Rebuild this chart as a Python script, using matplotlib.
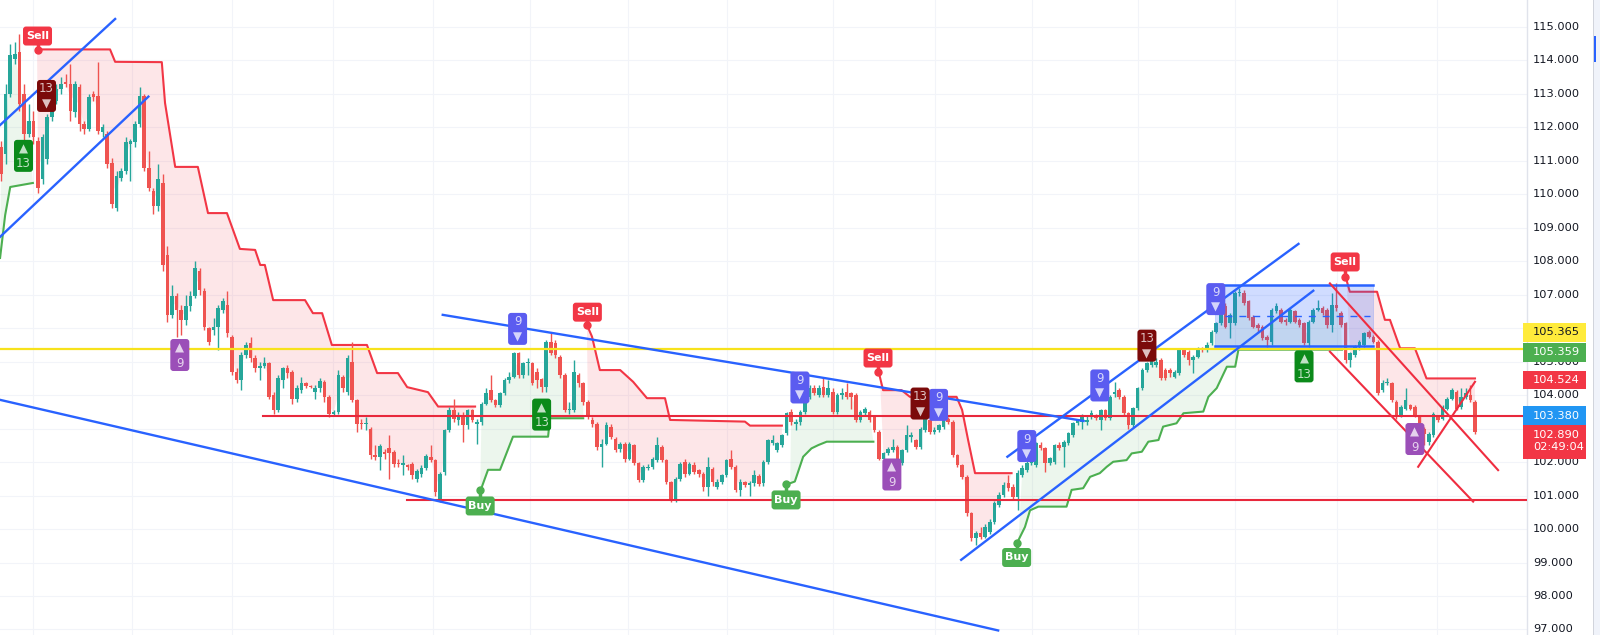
import numpy as np
import matplotlib
matplotlib.use("Agg")
import matplotlib.pyplot as plt
from matplotlib.patches import Polygon, Rectangle, FancyBboxPatch
from matplotlib.transforms import blended_transform_factory

# candles, oldest first
opens = [
    111.40, 111.20, 113.00, 114.05, 114.25, 113.00, 111.80, 112.20, 111.60, 110.45,
    111.05, 112.30, 112.80, 113.15, 113.35, 113.30, 112.45, 113.20, 112.10, 111.95,
    113.00, 112.95, 111.87, 111.80, 110.95, 109.60, 110.50, 110.70, 111.50, 111.55,
    112.10, 112.95, 110.80, 110.10, 109.65,
    110.35, 108.20, 106.40, 106.95, 106.55, 106.25, 106.65, 106.95, 107.70, 107.10,
    106.00, 105.95, 106.05, 106.55, 106.70, 105.75, 104.70, 104.45, 105.20, 105.55,
    105.10, 104.80, 104.88, 104.95, 104.00, 103.55, 104.45, 104.80, 104.70, 103.90,
    104.15, 104.35, 104.28, 104.10, 104.22, 104.40, 103.95, 103.45, 103.50, 104.55,
    104.10, 105.00, 103.85, 103.18, 103.13, 103.00, 102.20, 102.15, 102.30, 102.43,
    102.30, 101.98, 101.92, 101.90, 101.95, 101.50, 101.65, 101.83, 102.15, 102.05,
    100.85, 101.70, 102.95, 103.55, 103.25, 103.40, 103.10, 103.55, 103.15, 103.20,
    103.75, 104.15, 103.85, 103.70, 104.05, 104.45, 104.55, 105.25, 104.60, 104.95,
    104.95, 104.70, 104.47, 104.25, 105.60, 105.55, 105.15, 104.60, 103.55, 103.55,
    104.60, 104.35, 103.80, 103.25, 103.15, 102.45, 102.55, 103.05, 102.70, 102.40,
    102.55, 102.10, 102.50, 101.96, 101.46, 101.81, 101.86, 102.06, 102.46, 102.06,
    101.41, 100.88,
    101.50, 102.00, 101.65, 101.90, 101.75, 101.65, 101.25, 101.80, 101.25, 101.40,
    101.60, 102.10, 101.85, 101.17, 101.40, 101.32, 101.37, 101.58, 101.37, 102.00,
    102.56, 102.36, 102.50, 102.86, 103.50, 103.15, 103.20, 103.50, 103.95, 104.20,
    104.00, 104.25, 104.00, 104.10, 103.50, 104.00, 104.10, 104.05, 104.00, 103.25,
    103.48, 103.50, 103.35, 102.90, 102.10, 102.26, 102.36, 102.46, 101.96, 102.36,
    102.76, 102.66, 102.46, 102.95, 103.26, 102.90, 102.95, 103.05, 103.30,
    103.20, 102.20, 101.90, 101.57, 100.47, 99.72, 99.87, 99.77, 99.92, 100.22,
    100.72, 101.02, 101.37, 101.27, 100.97, 101.62, 101.77, 101.97, 101.91, 102.51,
    102.41, 101.96, 102.01, 102.51, 102.46, 102.56, 102.81, 103.16, 103.21, 103.21,
    103.36, 103.41, 103.26, 103.56, 103.31, 104.03, 104.16, 103.96, 103.46, 103.11,
    103.61, 104.20, 104.75, 104.90, 104.90, 105.05, 104.75, 104.75, 104.55, 104.65,
    105.35, 105.30, 105.05, 105.15, 105.40, 105.35,
    105.55, 105.90, 106.15, 106.65, 106.15, 106.15, 107.04, 107.04, 106.80, 106.35,
    106.10, 106.05, 105.75, 105.60, 106.50, 106.55, 106.25, 106.20, 106.50, 106.25,
    106.15, 105.55, 106.20, 106.55, 106.60, 106.55, 106.10, 106.70, 106.45, 106.15,
    105.05, 105.20, 105.45, 105.50, 105.90, 105.75, 105.60, 104.15, 104.35, 104.35,
    103.80, 103.40, 103.60, 103.70, 103.65, 103.35, 103.00, 102.60, 102.80, 103.35,
    103.30, 103.60, 103.90, 104.10, 103.65, 103.95, 104.00, 103.80,
]
closes = [
    110.60, 113.00, 114.15, 114.20, 112.70, 111.80, 112.20, 111.70, 110.20, 111.70,
    112.30, 112.80, 113.15, 113.30, 113.30, 112.50, 113.30, 112.10, 111.95, 112.90,
    112.90, 111.90, 112.00, 110.90, 109.70, 110.55, 110.70, 111.55, 111.58, 112.10,
    112.95, 110.80, 110.20, 109.65, 110.45,
    107.90, 106.40, 106.95, 106.55, 106.25, 106.65, 106.95, 107.80, 107.15, 106.05,
    105.60, 106.05, 106.60, 106.80, 105.85, 104.70, 104.45, 105.20, 105.50, 105.10,
    104.80, 104.88, 104.95, 103.95, 103.55, 104.50, 104.80, 104.65, 103.90, 104.20,
    104.35, 104.28, 104.24, 104.22, 104.43, 103.95, 103.45, 103.50, 104.60, 104.20,
    105.10, 103.85, 103.15, 103.13, 103.18, 102.20, 102.15, 102.48, 102.25, 102.28,
    101.95, 101.94, 101.96, 101.85, 101.60, 101.73, 101.83, 102.18, 102.05, 101.10,
    101.65, 102.95, 103.55, 103.30, 103.40, 103.10, 103.55, 103.25, 103.20, 103.75,
    104.05, 103.85, 103.70, 104.05, 104.45, 104.55, 105.25, 104.60, 104.95, 105.00,
    104.35, 104.45, 104.23, 105.60, 105.25, 105.20, 104.60, 103.55, 103.60, 104.70,
    104.35, 103.80, 103.40, 103.15, 102.45, 102.55, 103.10, 102.75, 102.35, 102.55,
    102.10, 102.55, 101.98, 101.46, 101.86, 101.86, 102.10, 102.50, 102.06, 101.41,
    100.88, 101.50,
    101.95, 101.65, 101.95, 101.70, 101.65, 101.25, 101.85, 101.40, 101.40, 101.60,
    102.05, 101.85, 101.17, 101.40, 101.33, 101.37, 101.60, 101.35, 102.00, 102.66,
    102.66, 102.56, 102.80, 103.46, 103.20, 103.20, 103.50, 103.95, 104.20, 104.05,
    104.20, 104.00, 104.20, 103.50, 104.00, 104.05, 103.95, 103.95, 103.25, 103.50,
    103.58, 103.25, 102.96, 102.10, 102.26, 102.40, 102.46, 102.10, 102.36, 102.80,
    102.80, 102.46, 103.00, 103.30, 102.90, 102.96, 103.10, 103.30, 103.20,
    102.20, 101.90, 101.57, 100.47, 99.72, 99.87, 99.77, 100.07, 100.20, 100.77,
    101.02, 101.32, 101.22, 100.97, 101.67, 101.82, 101.97, 102.22, 102.56, 102.41,
    101.96, 102.11, 102.51, 102.41, 102.61, 102.86, 103.16, 103.26, 103.41, 103.26,
    103.46, 103.31, 103.56, 103.31, 103.96, 104.08, 103.96, 103.46, 103.11, 103.61,
    104.20, 104.75, 104.95, 105.05, 105.00, 104.50, 104.50, 104.65, 104.70, 105.35,
    105.20, 105.05, 105.15, 105.40, 105.35, 105.50,
    105.90, 106.15, 106.65, 106.05, 106.40, 107.04, 107.09, 106.74, 106.30, 106.05,
    106.00, 105.70, 105.65, 106.55, 106.65, 106.20, 106.20, 106.55, 106.20, 106.10,
    105.55, 106.20, 106.55, 106.60, 106.45, 106.10, 106.70, 106.60, 106.10, 105.05,
    105.25, 105.45, 105.60, 105.85, 105.75, 105.60, 104.05, 104.35, 104.40, 103.85,
    103.40, 103.65, 103.85, 103.60, 103.40, 103.05, 102.85, 102.85, 103.45, 103.25,
    103.65, 103.90, 104.15, 103.60, 103.95, 104.05, 103.85, 102.89,
]
highs = [
    111.60, 113.30, 114.50, 114.55, 114.80, 113.30, 112.70, 112.50, 111.70, 111.80,
    112.40, 113.00, 113.30, 113.50, 113.60, 113.90, 113.40, 113.30, 112.20, 113.00,
    113.10, 113.95, 112.10, 111.90, 111.10, 110.70, 110.80, 111.70, 111.65, 112.20,
    113.20, 113.00, 111.30, 110.20, 110.90,
    110.60, 108.45, 107.30, 107.05, 106.70, 107.00, 107.10, 108.00, 107.80, 107.20,
    106.05, 106.30, 106.70, 106.90, 107.10, 105.80, 104.80, 105.30, 105.60, 105.75,
    105.20, 105.00, 105.15, 105.00, 104.10, 104.60, 104.85, 104.90, 104.75, 104.30,
    104.55, 104.40, 104.30, 104.30, 104.50, 104.45, 104.00, 103.55, 104.75, 104.60,
    105.20, 105.60, 103.90, 103.30, 103.35, 103.05, 102.50, 102.55, 102.40, 102.80,
    102.35, 102.10, 102.20, 101.95, 102.00, 101.80, 101.90, 102.25, 102.50, 102.10,
    101.70, 103.00, 103.65, 103.90, 103.50, 103.50, 103.60, 103.60, 103.30, 103.80,
    104.20, 104.60, 103.90, 104.10, 104.50, 104.70, 105.30, 105.30, 105.00, 105.10,
    105.00, 104.80, 104.50, 105.65, 105.85, 105.65, 105.20, 104.65, 103.80, 105.05,
    104.65, 104.40, 103.85, 103.35, 103.20, 102.70, 103.20, 103.15, 102.75, 102.60,
    102.60, 102.60, 102.55, 102.00, 101.90, 101.95, 102.15, 102.76, 102.50, 102.10,
    101.45, 101.55,
    102.00, 102.10, 102.00, 102.00, 101.80, 101.70, 102.15, 101.85, 101.50, 101.65,
    102.10, 102.35, 101.90, 101.50, 101.45, 101.45, 101.75, 101.65, 102.05, 102.70,
    102.80, 102.60, 102.85, 103.50, 103.60, 103.30, 103.55, 104.00, 104.30, 104.30,
    104.30, 104.50, 104.45, 104.20, 104.05, 104.20, 104.35, 104.10, 104.05, 103.55,
    103.65, 103.55, 103.40, 102.95, 102.30, 102.45, 102.70, 102.50, 102.40, 103.10,
    102.90, 102.70, 103.05, 103.50, 103.30, 103.05, 103.15, 103.35, 103.35,
    103.25, 102.25, 101.95, 101.60, 100.50, 99.95, 100.05, 100.15, 100.30, 100.85,
    101.10, 101.40, 101.60, 101.35, 101.75, 101.90, 102.05, 102.30, 102.60, 102.60,
    102.45, 102.15, 102.55, 102.60, 102.65, 102.90, 103.20, 103.30, 103.45, 103.40,
    103.55, 103.45, 103.60, 103.60, 104.00, 104.40, 104.20, 104.00, 103.50, 103.65,
    104.25, 104.80, 105.00, 105.15, 105.10, 105.10, 104.80, 104.80, 104.75, 105.40,
    105.40, 105.35, 105.20, 105.45, 105.45, 105.60,
    105.95, 106.20, 106.70, 106.75, 106.45, 107.10, 107.20, 107.15, 106.85, 106.40,
    106.15, 106.10, 105.80, 106.60, 106.75, 106.60, 106.30, 106.60, 106.55, 106.30,
    106.20, 106.25, 106.60, 106.85, 106.65, 106.60, 107.05, 107.35, 106.50, 106.20,
    105.30, 105.50, 105.65, 105.90, 105.95, 105.80, 105.65, 104.45, 104.50, 104.40,
    103.85, 103.70, 104.20, 103.75, 103.70, 103.40, 103.05, 102.90, 103.50, 103.40,
    103.70, 103.95, 104.20, 104.15, 104.20, 104.20, 104.30, 103.85,
]
lows = [
    110.40, 110.90, 112.90, 113.90, 112.50, 111.60, 111.70, 111.50, 110.05, 110.30,
    110.90, 112.20, 112.70, 113.00, 113.20, 112.20, 112.30, 111.90, 111.80, 111.90,
    112.80, 111.80, 111.70, 110.80, 109.60, 109.50, 110.40, 110.60, 110.40, 111.40,
    112.00, 110.70, 110.10, 109.40, 109.50,
    107.70, 106.20, 106.30, 105.75, 105.80, 106.10, 106.50, 106.90, 107.00, 105.95,
    105.50, 105.80, 105.35, 106.45, 105.75, 104.60, 104.35, 104.15, 105.10, 105.00,
    104.70, 104.45, 104.80, 103.90, 103.45, 103.50, 104.20, 104.50, 103.75, 103.80,
    104.05, 104.20, 104.20, 103.90, 104.10, 103.80, 103.35, 103.40, 103.45, 104.10,
    104.00, 103.80, 102.90, 103.00, 102.95, 102.10, 102.05, 101.75, 102.10, 101.50,
    101.85, 101.85, 101.60, 101.75, 101.50, 101.40, 101.55, 101.75, 102.00, 101.00,
    100.80, 101.60, 102.90, 103.20, 103.10, 102.60, 103.00, 103.20, 102.55, 103.10,
    103.70, 103.80, 103.65, 103.65, 104.00, 104.35, 104.50, 104.50, 104.50, 104.60,
    104.30, 104.20, 104.10, 104.10, 105.20, 105.10, 104.50, 103.50, 103.45, 103.50,
    104.25, 103.70, 103.30, 103.05, 102.35, 101.85, 102.50, 102.70, 102.30, 102.30,
    102.00, 102.05, 101.90, 101.40, 101.40, 101.75, 101.80, 102.00, 102.00, 101.35,
    100.80, 100.80,
    101.45, 101.55, 101.60, 101.65, 101.55, 101.15, 101.00, 101.30, 101.20, 101.35,
    101.55, 101.80, 101.10, 101.00, 101.25, 101.00, 101.30, 101.30, 101.30, 101.95,
    102.50, 102.30, 102.45, 102.80, 103.10, 102.95, 103.10, 103.45, 103.90, 104.00,
    103.95, 103.95, 103.95, 103.45, 103.45, 103.90, 103.90, 103.60, 103.20, 103.20,
    103.40, 103.20, 102.90, 102.05, 102.05, 102.20, 102.30, 102.05, 101.90, 102.30,
    102.60, 102.40, 102.40, 102.90, 102.85, 102.85, 102.90, 103.00, 103.15,
    102.15, 101.85, 101.50, 100.40, 99.65, 99.52, 99.70, 99.72, 99.85, 100.15,
    100.65, 100.95, 101.15, 100.90, 100.57, 101.55, 101.70, 101.90, 101.85, 102.35,
    101.70, 101.90, 101.95, 102.35, 101.85, 102.50, 102.75, 103.10, 103.00, 103.10,
    103.30, 103.25, 102.96, 103.25, 103.25, 103.95, 103.90, 103.40, 103.00, 103.05,
    103.55, 104.15, 104.70, 104.85, 104.85, 104.45, 104.45, 104.55, 104.50, 104.60,
    105.15, 104.90, 104.65, 105.10, 105.30, 105.30,
    105.50, 105.85, 106.10, 106.00, 105.70, 106.10, 106.95, 106.70, 106.25, 106.00,
    105.90, 105.65, 105.45, 105.50, 106.45, 106.15, 106.10, 106.15, 106.15, 106.05,
    105.50, 105.45, 106.15, 106.50, 106.40, 106.00, 105.90, 106.50, 106.05, 104.95,
    104.85, 105.15, 105.35, 105.45, 105.70, 105.55, 104.00, 104.10, 104.30, 103.80,
    103.30, 103.35, 103.55, 103.55, 103.35, 103.00, 102.50, 102.50, 102.75, 103.20,
    103.25, 103.55, 103.85, 103.55, 103.60, 103.90, 103.80, 102.85,
]

# supertrend line as (bar, level) knots
st_segments = [
    ("up", [(-0.2, 108.10), (0.9, 109.38), (2.0, 110.22), (6.9, 110.34)]),
    ("down", [(7.8, 114.33), (23.6, 114.33), (24.7, 113.96), (34.8, 113.95), (35.5, 112.73),
              (37.7, 110.82), (42.6, 110.82), (44.8, 109.44), (48.9, 109.44), (51.7, 108.37),
              (55.0, 108.34), (56.1, 107.89), (57.1, 107.89), (58.9, 106.84), (65.8, 106.84),
              (67.5, 106.45), (69.5, 106.45), (71.6, 105.50), (79.2, 105.50), (81.4, 104.66),
              (85.9, 104.66), (87.9, 104.24), (92.4, 104.09), (94.6, 103.66), (102.6, 103.66)]),
    ("up", [(103.7, 101.12), (105.4, 101.77), (108.0, 101.77), (110.8, 102.76), (118.4, 102.76),
            (118.8, 103.31), (126.0, 103.31)]),
    ("down", [(126.8, 106.10), (127.9, 105.75), (129.6, 104.75), (134.0, 104.75), (136.8, 104.40),
              (139.8, 103.91), (143.7, 103.91), (144.8, 103.26), (161.0, 103.21), (162.1, 103.09),
              (169.0, 103.09)]),
    ("up", [(170.8, 101.37), (171.8, 101.42), (173.6, 102.16), (175.4, 102.41), (176.9, 102.51),
            (178.7, 102.61), (188.8, 102.61)]),
    ("down", [(190.2, 104.55), (190.9, 104.15), (194.9, 104.15), (196.7, 103.95), (206.8, 103.95),
              (208.0, 103.56), (209.3, 102.66), (210.8, 101.67), (218.7, 101.67)]),
    ("up", [(220.2, 99.67), (221.6, 100.06), (222.7, 100.56), (224.5, 100.67), (230.6, 100.67),
            (231.7, 101.17), (234.2, 101.22), (235.7, 101.56), (237.8, 101.67), (239.3, 101.86),
            (240.7, 102.01), (243.6, 102.06), (244.7, 102.26), (246.9, 102.31), (248.3, 102.61),
            (250.5, 102.66), (251.5, 103.06), (254.4, 103.16), (255.9, 103.46), (260.2, 103.51),
            (261.3, 103.95), (263.1, 104.21), (265.3, 104.85), (267.1, 104.85), (267.8, 105.36),
            (290.2, 105.36)]),
    ("down", [(291.2, 107.44), (291.9, 107.09), (297.8, 107.09), (299.5, 106.25), (300.6, 106.25),
              (302.8, 105.40), (306.0, 105.40), (308.5, 104.50), (319.0, 104.50)]),
]

# Buy / Sell flags: text, bar, line level, label centre
signals = [
    ("Sell", 7.9, 114.31, 114.73),
    ("Sell", 126.9, 106.10, 106.48),
    ("Sell", 189.8, 104.70, 105.11),
    ("Sell", 290.9, 107.53, 107.98),
    ("Buy", 103.7, 101.17, 100.69),
    ("Buy", 169.9, 101.35, 100.87),
    ("Buy", 219.8, 99.58, 99.15),
]

# TD sequential counts: bar, level, count, kind
td_labels = [
    (111.8, 105.98, "9", "sell9"), (172.9, 104.23, "9", "sell9"), (202.9, 103.71, "9", "sell9"),
    (222.0, 102.48, "9", "sell9"), (237.8, 104.29, "9", "sell9"), (262.9, 106.87, "9", "sell9"),
    (9.85, 112.94, "13", "sell13"), (198.9, 103.75, "13", "sell13"), (248.0, 105.48, "13", "sell13"),
    (4.87, 111.15, "13", "buy13"), (117.0, 103.42, "13", "buy13"), (282.0, 104.86, "13", "buy13"),
    (38.7, 105.20, "9", "buy9"), (192.8, 101.63, "9", "buy9"), (306.0, 102.69, "9", "buy9"),
]

# hand drawn lines
blue_lines = [
    ((-0.2, 112.07), (24.7, 115.24)),
    ((-0.2, 108.73), (31.9, 112.92)),
    ((-0.2, 103.86), (215.8, 96.97)),
    ((95.6, 106.40), (234.3, 103.23)),
    ((217.8, 102.16), (280.8, 108.52)),
    ((207.8, 99.08), (284.0, 107.12)),
]
red_lines = [
    ((287.6, 107.34), (324.0, 101.76)),
    ((287.6, 105.30), (318.6, 100.82)),
    ((306.7, 101.86), (319.0, 104.40)),
]
yellow_level = 105.365
red_levels = [(56.7, 103.38), (87.9, 100.87)]
range_box = (262.7, 296.9, 105.47, 107.29)
range_mid = (265.0, 296.3, 106.37)

grid_bars = [6.9, 28.4, 50.0, 71.8, 93.5, 114.5, 135.7, 157.1, 180.1, 202.1, 223.1, 246.1, 267.1, 289.1, 310.8]
axis_prices = [97, 98, 99, 100, 101, 102, 104, 105, 107, 108, 109, 110, 111, 112, 113, 114, 115]
price_tags = [
    ("105.365", 105.88, 106.17, 105.60, "#ffeb3b", "#131722"),
    ("105.359", 105.28, 105.57, 104.99, "#4caf50", "white"),
    ("104.524", 104.45, 104.73, 104.17, "#f23645", "white"),
    ("103.380", 103.39, 103.68, 103.11, "#2196f3", "white"),
    ("102.890\n02:49:04", 102.62, 103.11, 102.09, "#f23645", "white"),
]

N = len(closes)
o = np.array(opens); c = np.array(closes); h = np.array(highs); l = np.array(lows)
x = np.arange(N)

W, H = 1600, 635
PLOT_W = 1527
dx = 1474 / (N - 1)          # pixels per bar
dy = 33.47                   # pixels per price unit
bx, py = 1 / dx, 1 / dy

fig = plt.figure(figsize=(W / 100, H / 100), dpi=100)
fig.patch.set_facecolor("white")
ax = fig.add_axes([0, 0, PLOT_W / W, 1])
ax.set_xlim(-1 * bx, (PLOT_W - 1) * bx)
ax.set_ylim(115 - 608 * py, 115 + 27 * py)
ax.axis("off")

# grid
for v in range(97, 116):
    ax.axhline(v, color="#f2f4f9", lw=0.8, zorder=0)
for g in grid_bars:
    ax.axvline(g, color="#f2f4f9", lw=0.8, zorder=0)

# supertrend with fill to candle body middle
mids = (o + c) / 2
for kind, pts in st_segments:
    col = "#4caf50" if kind == "up" else "#f23645"
    xs = [p[0] for p in pts]
    ys = [p[1] for p in pts]
    bars = np.arange(max(int(np.ceil(xs[0])), 0), min(int(np.floor(xs[-1])), N - 1) + 1)
    poly = list(zip(xs, ys)) + list(zip(bars[::-1], mids[bars[::-1]]))
    ax.add_patch(Polygon(poly, closed=True, fc=col, alpha=0.1 if kind == "up" else 0.12,
                         ec="none", zorder=1))
    ax.plot(xs, ys, color=col, lw=1.5, zorder=2, solid_joinstyle="round")

# candles
colors = np.where(c >= o, "#26a69a", "#ef5350")
ax.vlines(x, l, h, colors=colors, lw=1, zorder=3)
body = np.maximum(np.abs(c - o), 0.035)
ax.bar(x, body, bottom=np.minimum(o, c), width=0.78, color=colors, linewidth=0, zorder=4)

# horizontal levels
ax.axhline(yellow_level, color="#f7e21b", lw=1.6, zorder=5)
for start, lvl in red_levels:
    ax.plot([start, ax.get_xlim()[1]], [lvl, lvl], color="#e8283c", lw=1.5, zorder=5)

# range rectangle
x0, x1, y0, y1 = range_box
ax.add_patch(Rectangle((x0, y0), x1 - x0, y1 - y0, fc="#2962ff", alpha=0.22, ec="#2962ff",
                       lw=0.6, zorder=5))
ax.plot([x0, x1], [y1, y1], color="#2962ff", lw=1.8, zorder=6)
ax.plot([x0, x1], [y0, y0], color="#2962ff", lw=1.8, zorder=6)
ax.plot([range_mid[0], range_mid[1]], [range_mid[2]] * 2, color="#2962ff", lw=1,
        ls=(0, (5, 5)), zorder=6)

for (a, b) in blue_lines:
    ax.plot([a[0], b[0]], [a[1], b[1]], color="#2962ff", lw=1.7, zorder=6)
for (a, b) in red_lines:
    ax.plot([a[0], b[0]], [a[1], b[1]], color="#ef2d40", lw=1.5, zorder=6)


def rounded_box(cx, cy, wpx, hpx, fc, z):
    w, hh = wpx * bx, hpx * py
    p = FancyBboxPatch((cx - w / 2, cy - hh / 2), w, hh,
                       boxstyle="round,pad=0,rounding_size=%f" % (3 * bx),
                       mutation_aspect=py / bx, fc=fc, ec="none", zorder=z)
    ax.add_patch(p)


# Buy / Sell flags
for text, bar, lvl, cy in signals:
    col = "#f23645" if text == "Sell" else "#4caf50"
    ax.plot([bar, bar], [lvl, cy], color=col, lw=2.5, zorder=7)
    ax.plot(bar, lvl, "o", ms=5, color=col, zorder=7)
    rounded_box(bar, cy, 29, 19, col, 8)
    ax.text(bar, cy, text, ha="center", va="center", color="white", fontsize=8,
            fontweight="bold", zorder=9)

# TD counts
td_colors = {"sell9": "#5b5cf0", "sell13": "#7b0a0a", "buy13": "#0b8a1a", "buy9": "#9b4fb8"}
for bar, lvl, num, kind in td_labels:
    rounded_box(bar, lvl, 19, 32, td_colors[kind], 8)
    if kind.startswith("sell"):
        top, bottom = num, "\u25bc"
    else:
        top, bottom = "\u25b2", num
    ax.text(bar, lvl + 7 * py, top, ha="center", va="center", color="white", alpha=0.75,
            fontsize=8.5, zorder=9)
    ax.text(bar, lvl - 8 * py, bottom, ha="center", va="center", color="white", alpha=0.75,
            fontsize=8.5, zorder=9)

# price scale
tr = blended_transform_factory(ax.transAxes, ax.transData)
ax.plot([1, 1], [0, 1], transform=ax.transAxes, color="#e0e3eb", lw=1, clip_on=False)
for v in axis_prices:
    ax.text(1533 / PLOT_W, v, "%d.000" % v, transform=tr, ha="left", va="center",
            fontsize=8.2, color="#131722", clip_on=False, zorder=10)
for text, cy, top, bot, fc, tc in price_tags:
    ax.add_patch(Rectangle((1523 / PLOT_W, bot), 63 / PLOT_W, top - bot, transform=tr,
                           fc=fc, ec="none", clip_on=False, zorder=11))
    ax.text(1533 / PLOT_W, cy, text, transform=tr, ha="left", va="center", fontsize=8.2,
            color=tc, linespacing=1.25, clip_on=False, zorder=12)

# right edge strip
fig.patches.append(Rectangle((1593 / W, 0), 7 / W, 1, transform=fig.transFigure,
                             fc="#f0f3fa", ec="none"))
fig.patches.append(Rectangle((1593 / W, 0), 1 / W, 1, transform=fig.transFigure,
                             fc="#d1d4dc", ec="none"))
fig.patches.append(Rectangle((1594 / W, 1 - 62 / H), 2 / W, 26 / H, transform=fig.transFigure,
                             fc="#2962ff", ec="none"))

fig.savefig("out.png", dpi=100)
